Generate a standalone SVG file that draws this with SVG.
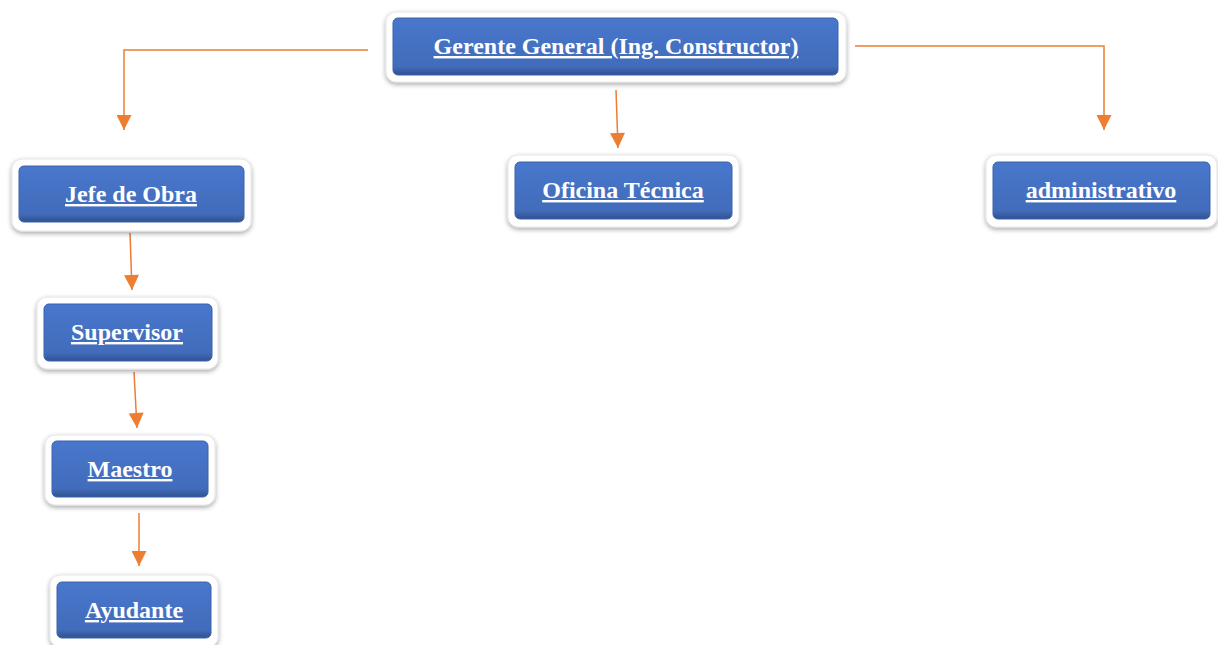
<svg xmlns="http://www.w3.org/2000/svg" width="1218" height="645" viewBox="0 0 1218 645">
<defs>
<filter id="sh" x="-10%" y="-20%" width="120%" height="150%">
<feGaussianBlur in="SourceAlpha" stdDeviation="2.5"/>
<feOffset dx="0" dy="2" result="b"/>
<feComponentTransfer><feFuncA type="linear" slope="0.35"/></feComponentTransfer>
<feMerge><feMergeNode/><feMergeNode in="SourceGraphic"/></feMerge>
</filter>
<linearGradient id="bg" x1="0" y1="0" x2="0" y2="1">
<stop offset="0" stop-color="#4877cc"/>
<stop offset="0.85" stop-color="#426cbb"/>
<stop offset="1" stop-color="#2f528f"/>
</linearGradient>
<marker id="ah2" viewBox="0 0 10 10" refX="10" refY="5" markerWidth="16" markerHeight="15" markerUnits="userSpaceOnUse" orient="auto">
<path d="M0,0 L10,5 L0,10 z" fill="#ED7D31"/>
</marker>
</defs>
<style>
.outer{fill:#ffffff;stroke:#e6e6e6;stroke-width:1;filter:url(#sh)}
.inner{fill:url(#bg);stroke:#3a63ad;stroke-width:1}
.lbl{font-family:"Liberation Serif","Times New Roman",serif;font-weight:bold;font-size:24px;fill:#ffffff;text-anchor:middle;text-decoration:underline}
.c{fill:none;stroke:#ED7D31;stroke-width:1.5;marker-end:url(#ah2)}
</style>
<rect width="1218" height="645" fill="#ffffff"/>
<g id="connectors">
<path class="c" d="M368,50 H124 V130"/>
<path class="c" d="M616,90 L618,148"/>
<path class="c" d="M855,46 H1104 V130"/>
<path class="c" d="M130,233 L132,290"/>
<path class="c" d="M134,372 L137,428"/>
<path class="c" d="M139,513 L139,566"/>
</g>
<g id="gerente">
<rect class="outer" x="386" y="12" width="460" height="70" rx="10"/>
<rect class="inner" x="393" y="18" width="445" height="57" rx="5"/>
<text class="lbl" x="616" y="54">Gerente General (Ing. Constructor)</text>
</g>
<g id="jefe">
<rect class="outer" x="12" y="159" width="239" height="72" rx="10"/>
<rect class="inner" x="19" y="166" width="225" height="56" rx="5"/>
<text class="lbl" x="131" y="202">Jefe de Obra</text>
</g>
<g id="oficina">
<rect class="outer" x="508" y="155" width="231" height="72" rx="10"/>
<rect class="inner" x="515" y="162" width="217" height="57" rx="5"/>
<text class="lbl" x="623" y="198">Oficina Técnica</text>
</g>
<g id="administrativo">
<rect class="outer" x="986" y="155" width="231" height="72" rx="10"/>
<rect class="inner" x="993" y="162" width="217" height="57" rx="5"/>
<text class="lbl" x="1101" y="198">administrativo</text>
</g>
<g id="supervisor">
<rect class="outer" x="37" y="297" width="181" height="72" rx="10"/>
<rect class="inner" x="44" y="304" width="168" height="57" rx="5"/>
<text class="lbl" x="127" y="340">Supervisor</text>
</g>
<g id="maestro">
<rect class="outer" x="45" y="435" width="170" height="70" rx="10"/>
<rect class="inner" x="52" y="441" width="156" height="56" rx="5"/>
<text class="lbl" x="130" y="477">Maestro</text>
</g>
<g id="ayudante">
<rect class="outer" x="50" y="575" width="168" height="72" rx="10"/>
<rect class="inner" x="57" y="582" width="154" height="56" rx="5"/>
<text class="lbl" x="134" y="618">Ayudante</text>
</g>
</svg>
